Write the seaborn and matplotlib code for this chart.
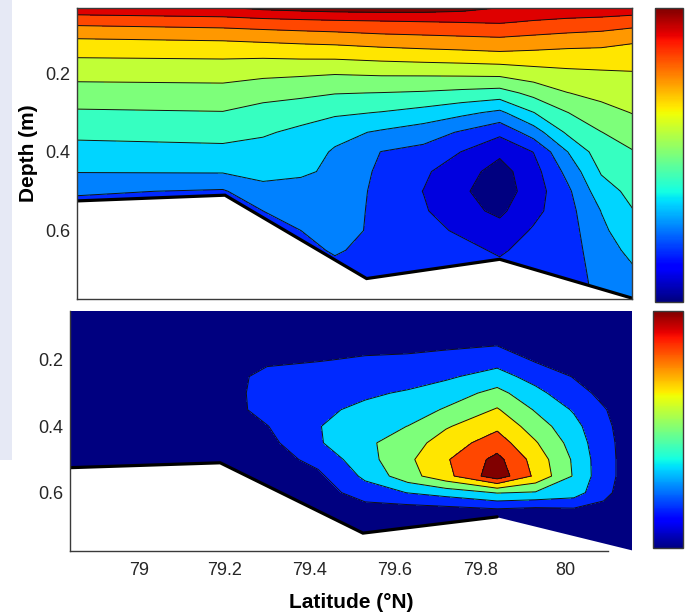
import numpy as np
import matplotlib
matplotlib.use("Agg")
import matplotlib.pyplot as plt
from matplotlib.colors import Normalize
from matplotlib.cm import ScalarMappable
from matplotlib.ticker import FuncFormatter
from matplotlib.patches import Rectangle
import seaborn as sns

# ---------------- data ----------------
# upper section: station latitudes (deg N) and depth levels (m)
TOP_LAT = [78.83, 79.185, 79.28, 79.37, 79.45, 79.56, 79.66, 79.75, 79.84, 79.92, 80.0, 80.08, 80.16]
TOP_DEPTH = [0.034, 0.07, 0.11, 0.15, 0.2, 0.25, 0.3, 0.35, 0.4, 0.45, 0.5, 0.55, 0.6, 0.65, 0.7, 0.78]
# one profile per station (top to bottom)
TOP_FIELD = [
    [5.90, 5.23, 4.67, 4.27, 3.88, 3.53, 3.20, 2.91, 2.63, 2.36, 1.94, 1.69, 1.60, 1.55, 1.51, 1.51],
    [5.99, 5.33, 4.73, 4.30, 3.90, 3.56, 3.24, 2.96, 2.68, 2.38, 1.83, 1.65, 1.55, 1.55, 1.51, 1.51],
    [6.13, 5.39, 4.79, 4.30, 3.84, 3.42, 3.10, 2.85, 2.65, 2.46, 2.22, 1.88, 1.65, 1.55, 1.51, 1.51],
    [6.20, 5.44, 4.84, 4.34, 3.80, 3.37, 2.97, 2.71, 2.56, 2.39, 2.22, 2.05, 1.88, 1.69, 1.60, 1.55],
    [6.25, 5.48, 4.88, 4.36, 3.76, 3.28, 2.88, 2.48, 2.29, 2.28, 2.28, 2.28, 2.25, 1.95, 1.70, 1.65],
    [6.27, 5.52, 4.97, 4.43, 3.80, 3.25, 2.78, 2.28, 1.87, 1.78, 1.71, 1.67, 1.65, 1.65, 1.65, 1.65],
    [6.25, 5.56, 5.01, 4.49, 3.81, 3.21, 2.64, 2.10, 1.74, 1.48, 1.40, 1.46, 1.55, 1.60, 1.62, 1.65],
    [6.18, 5.59, 5.05, 4.53, 3.83, 3.14, 2.45, 1.83, 1.40, 1.14, 1.02, 1.09, 1.34, 1.55, 1.60, 1.65],
    [6.03, 5.62, 5.09, 4.58, 3.86, 3.07, 2.24, 1.52, 1.04, 0.77, 0.70, 0.86, 1.11, 1.34, 1.55, 1.65],
    [5.95, 5.53, 5.02, 4.55, 4.00, 3.40, 2.79, 2.11, 1.42, 1.23, 1.18, 1.28, 1.46, 1.60, 1.65, 1.69],
    [5.90, 5.46, 4.95, 4.51, 4.09, 3.72, 3.25, 2.88, 2.33, 2.01, 1.78, 1.71, 1.67, 1.65, 1.65, 1.65],
    [5.90, 5.40, 4.90, 4.50, 4.13, 3.86, 3.57, 3.25, 3.06, 2.84, 2.60, 2.35, 2.25, 2.15, 2.06, 1.97],
    [5.85, 5.31, 4.74, 4.48, 4.16, 3.96, 3.76, 3.52, 3.25, 3.11, 2.95, 2.81, 2.64, 2.47, 2.32, 2.15],
]
TOP_LEVELS = [0.03, 0.95, 1.41, 1.88, 2.34, 2.80, 3.26, 3.73, 4.19, 4.65, 5.11, 5.58, 6.04, 6.50]
TOP_CRANGE = [0.72, 6.27]
TOP_CTICKS = [1, 2, 3, 4, 5, 6]

# lower section
BOT_LAT = [78.83, 79.19, 79.3, 79.42, 79.53, 79.63, 79.72, 79.84, 79.93, 80.02, 80.09, 80.16]
BOT_DEPTH = [0.05, 0.1, 0.15, 0.2, 0.25, 0.3, 0.35, 0.4, 0.45, 0.5, 0.55, 0.6, 0.65, 0.7, 0.78]
BOT_FIELD = [
    [0.21, 0.21, 0.21, 0.21, 0.21, 0.21, 0.21, 0.21, 0.21, 0.21, 0.21, 0.21, 0.21, 0.21, 0.21],
    [0.21, 0.21, 0.21, 0.21, 0.21, 0.21, 0.21, 0.21, 0.21, 0.21, 0.21, 0.21, 0.21, 0.21, 0.21],
    [0.21, 0.21, 0.21, 0.47, 0.92, 1.00, 0.96, 0.62, 0.39, 0.21, 0.21, 0.21, 0.21, 0.21, 0.21],
    [0.21, 0.21, 0.25, 0.61, 1.00, 1.18, 1.36, 1.49, 1.44, 0.92, 0.47, 0.21, 0.21, 0.21, 0.21],
    [0.21, 0.21, 0.39, 0.74, 1.09, 1.40, 1.71, 2.06, 2.24, 2.06, 1.71, 1.09, 0.30, 0.21, 0.21],
    [0.21, 0.21, 0.43, 0.78, 1.18, 1.62, 1.97, 2.42, 2.86, 3.12, 2.94, 1.55, 0.30, 0.21, 0.21],
    [0.21, 0.21, 0.47, 0.92, 1.40, 1.97, 2.50, 3.21, 3.74, 4.09, 3.91, 1.89, 0.39, 0.21, 0.21],
    [0.21, 0.21, 0.56, 1.18, 1.89, 2.68, 3.38, 4.00, 4.62, 5.32, 5.59, 2.46, 0.60, 0.21, 0.21],
    [0.21, 0.21, 0.30, 0.56, 1.18, 1.80, 2.33, 2.86, 3.38, 3.83, 4.00, 2.33, 0.47, 0.21, 0.21],
    [0.21, 0.21, 0.21, 0.39, 0.61, 0.92, 1.44, 1.80, 2.06, 2.28, 2.33, 1.97, 0.56, 0.21, 0.21],
    [0.21, 0.21, 0.21, 0.21, 0.30, 0.47, 0.70, 0.83, 0.92, 0.96, 0.96, 0.83, 0.47, 0.21, 0.21],
    [0.21, 0.21, 0.21, 0.21, 0.21, 0.21, 0.21, 0.21, 0.21, 0.21, 0.21, 0.21, 0.21, 0.21, 0.21],
]
BOT_LEVELS = [-0.23, 0.65, 1.53, 2.41, 3.30, 4.18, 5.06, 5.94]
BOT_CRANGE = [0.21, 5.50]
BOT_CTICKS = [1, 2, 3, 4, 5]

# sea floor along the section
BATHY_LAT = [78.83, 79.19, 79.525, 79.84, 80.16]
BATHY_DEPTH = [0.525, 0.51, 0.722, 0.673, 0.774]

X_TICKS = [79, 79.2, 79.4, 79.6, 79.8, 80]
Y_TICKS = [0.2, 0.4, 0.6]
X_LABEL = "Latitude (°N)"
Y_LABEL = "Depth (m)"

# ---------------- style ----------------
sns.set_theme(style="white")
plt.rcParams["font.family"] = ["Liberation Sans", "DejaVu Sans"]
cmap = matplotlib.colormaps["jet"]
TXT = "#262626"
EDGE = "#3a3a3a"

fig = plt.figure(figsize=(6.88, 6.15), dpi=100)
fig.patch.set_facecolor("white")
# strip of a neighbouring window at the left edge of the screenshot
fig.patches.append(Rectangle((0, 1 - 460 / 615), 12 / 688, 460 / 615,
                             transform=fig.transFigure, facecolor="#e6e9f5",
                             edgecolor="none", zorder=0))

ax1 = fig.add_axes([77 / 688, 1 - 299 / 615, 554.6 / 688, 291 / 615])
ax2 = fig.add_axes([70.2 / 688, 1 - 550.7 / 615, 561.6 / 688, 239.7 / 615])
cax1 = fig.add_axes([655 / 688, 1 - 301.7 / 615, 28.3 / 688, 293.7 / 615])
cax2 = fig.add_axes([653.3 / 688, 1 - 548.3 / 615, 30 / 688, 237.3 / 615])


def draw(ax, lat, depth, field, levels, crange, floor_pts):
    X, Y = np.meshgrid(lat, depth)
    Z = np.array(field).T
    ax.contourf(X, Y, Z, levels=levels, cmap=cmap,
                vmin=crange[0], vmax=crange[1], zorder=1)
    ax.contour(X, Y, Z, levels=levels[1:-1], colors="#111111",
               linewidths=0.7, zorder=2)
    ax.fill_between(BATHY_LAT, BATHY_DEPTH, 1.0, color="white", zorder=3,
                    linewidth=0)
    ax.plot(BATHY_LAT[:floor_pts], BATHY_DEPTH[:floor_pts], color="black",
            lw=2.3, solid_joinstyle="miter", zorder=4)


draw(ax1, TOP_LAT, TOP_DEPTH, TOP_FIELD, TOP_LEVELS, TOP_CRANGE, 5)
draw(ax2, BOT_LAT, BOT_DEPTH, BOT_FIELD, BOT_LEVELS, BOT_CRANGE, 4)

fmt = FuncFormatter(lambda v, p: f"{v:g}")
for ax, xlim, ylim in ((ax1, (78.840, 80.152), (0.774, 0.034)),
                       (ax2, (78.838, 80.156), (0.775, 0.0524))):
    ax.set_xlim(*xlim)
    ax.set_ylim(*ylim)
    ax.set_xticks(X_TICKS)
    ax.set_yticks(Y_TICKS)
    ax.xaxis.set_major_formatter(fmt)
    ax.yaxis.set_major_formatter(fmt)
    ax.tick_params(direction="in", length=5, width=0.9, color=EDGE,
                   labelsize=13, labelcolor=TXT, top=True, right=True, pad=5)
    for s in ax.spines.values():
        s.set_color(EDGE)
        s.set_linewidth(1.0)
        s.set_zorder(5)

ax1.tick_params(labelbottom=False)
ax1.set_ylabel(Y_LABEL, fontsize=15, fontweight="bold", color="black", labelpad=5)

ax2.spines["right"].set_visible(False)
ax2.spines["top"].set_visible(False)
ax2.spines["bottom"].set_bounds(78.838, 80.10)
ax2.tick_params(top=False, right=False)
ax2.tick_params(axis="x", pad=8)
ax2.set_xlabel(X_LABEL, fontsize=15, fontweight="bold", color="black", labelpad=10)

for cax, crange, cticks in ((cax1, TOP_CRANGE, TOP_CTICKS),
                            (cax2, BOT_CRANGE, BOT_CTICKS)):
    sm = ScalarMappable(norm=Normalize(*crange), cmap=cmap)
    cb = fig.colorbar(sm, cax=cax)
    cb.set_ticks(cticks)
    cb.outline.set_edgecolor(EDGE)
    cb.outline.set_linewidth(1.0)
    cax.tick_params(axis="y", direction="in", left=True, right=True,
                    labelright=False, labelleft=False, length=4, width=0.9,
                    color=EDGE)

fig.savefig("out.png", dpi=100)
